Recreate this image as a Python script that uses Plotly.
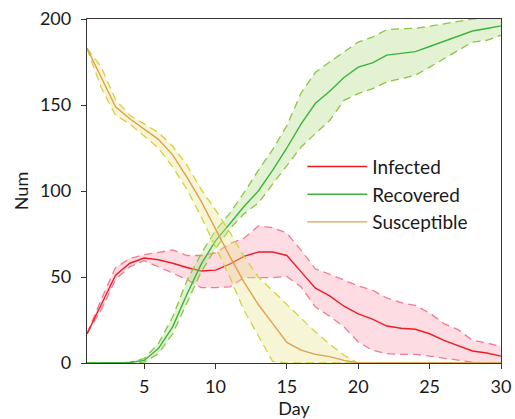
import plotly.graph_objects as go

days = list(range(1, 31))

infected_mean = [17, 34, 51, 58, 61, 60, 58, 55.5, 53.5, 54, 57.5, 62, 64.5, 64.5, 62.5,
                 53, 43.5, 39, 33, 28.5, 25.5, 21.5, 20.2, 19.6, 17, 13.2, 10.3, 7, 5.8, 4]
infected_upper = [17, 37, 55.5, 60.7, 63, 64.4, 65.7, 62.5, 62.5, 64, 69.4, 72.5, 79.7, 78.7, 75.5,
                  65.5, 54.7, 51.6, 48, 44.8, 42.3, 37.8, 35.1, 33.5, 29, 22.9, 19.4, 13.2, 11.6, 9.7]
infected_lower = [17, 31, 48.5, 56, 59.5, 56, 52.3, 48.5, 43.8, 43.8, 44.3, 49.6, 49.4, 49.6, 50.3,
                  44.2, 32.6, 27.2, 21, 12.2, 7.4, 5.4, 5, 5, 4, 2.8, 1.8, 0.5, 0, 0]

recovered_mean = [0, 0, 0, 0.3, 1.5, 8.4, 21, 40, 57.5, 71, 81, 91, 100, 112, 125,
                  139, 151, 158, 166, 172, 174.5, 179, 180, 181, 184, 187, 190, 193, 194.5, 196]
recovered_upper = [0, 0, 0, 0.5, 2.5, 11.3, 26.7, 48, 63.6, 77, 87, 99, 112, 124, 138,
                   157, 169, 175, 181, 186.6, 189.5, 193.8, 194.4, 194.6, 195.8, 197.3, 198.8, 200, 200.5, 200.5]
recovered_lower = [0, 0, 0, 0, 0.5, 5.4, 17, 35, 53, 66.5, 78, 86.8, 93, 104, 115,
                   125.6, 133.4, 141, 152.7, 156.6, 159.5, 163.4, 165.3, 167.3, 172, 177, 181.8, 186.6, 187.6, 190.5]

susceptible_mean = [183, 166, 149, 142, 136, 130, 121, 108, 94, 78, 62, 47, 34, 23, 12,
                    7.5, 5, 3.7, 1.5, 0, 0, 0, 0, 0, 0, 0, 0, 0, 0, 0]
susceptible_upper = [183, 172, 153, 144, 139, 134, 126, 115, 101, 89, 76, 62, 50, 42, 33.5,
                     26, 18, 11, 4.5, 0, 0, 0, 0, 0, 0, 0, 0, 0, 0, 0]
susceptible_lower = [183, 160, 144, 139, 132, 125, 114, 101, 85, 67, 50, 30.6, 16, 1, 0,
                     0, 0, 0, 0, 0, 0, 0, 0, 0, 0, 0, 0, 0, 0, 0]

x_ticks = [5, 10, 15, 20, 25, 30]
y_ticks = [0, 50, 100, 150, 200]

series = [
    ("Infected", infected_mean, infected_upper, infected_lower,
     "#ee1c25", "#f27a92", "rgba(250,170,185,0.40)"),
    ("Recovered", recovered_mean, recovered_upper, recovered_lower,
     "#3cb43c", "#8cc63f", "rgba(180,220,140,0.38)"),
    ("Susceptible", susceptible_mean, susceptible_upper, susceptible_lower,
     "#e0a050", "#d2d23c", "rgba(230,230,140,0.35)"),
]

fig = go.Figure()
for name, mean, up, lo, c_line, c_dash, c_fill in series:
    fig.add_trace(go.Scatter(x=days, y=up, mode="lines", showlegend=False,
                             line=dict(color=c_dash, width=1.3, dash="8px,5px"),
                             hoverinfo="skip"))
    fig.add_trace(go.Scatter(x=days, y=lo, mode="lines", showlegend=False,
                             fill="tonexty", fillcolor=c_fill,
                             line=dict(color=c_dash, width=1.3, dash="8px,5px"),
                             hoverinfo="skip"))
    fig.add_trace(go.Scatter(x=days, y=mean, mode="lines", name=name,
                             line=dict(color=c_line, width=1.4)))

font_family = "Lato, Carlito, Calibri, sans-serif"

fig.update_layout(
    width=515, height=419,
    autosize=False,
    margin=dict(l=87, r=14, t=19, b=56),
    paper_bgcolor="white", plot_bgcolor="white",
    font=dict(family=font_family, size=18, color="#1a1a1a"),
    showlegend=True,
    legend=dict(x=0.52, y=0.626, xanchor="left", yanchor="top",
                traceorder="normal",
                bgcolor="rgba(0,0,0,0)", borderwidth=0,
                font=dict(size=19), itemwidth=60, tracegroupgap=0),
    xaxis=dict(range=[1, 30], tickvals=x_ticks, ticks="outside", ticklen=5,
               tickwidth=1.2, tickcolor="#333", showline=True, linecolor="#333",
               linewidth=1.3, mirror=True, showgrid=False, zeroline=False,
               automargin=False, ticklabelstandoff=2,
               title=dict(text="Day", standoff=2, font=dict(size=18))),
    yaxis=dict(range=[0, 200], tickvals=y_ticks, ticks="outside", ticklen=5,
               tickwidth=1.2, tickcolor="#333", showline=True, linecolor="#333",
               linewidth=1.3, mirror=True, showgrid=False, zeroline=False,
               automargin=False, ticklabelstandoff=6,
               title=dict(text="Num", standoff=6, font=dict(size=18))),
)

fig.write_html(
    "out.html",
    config={"displayModeBar": False, "responsive": False},
    post_script=(
        "document.documentElement.style.overflow='hidden';"
        "document.body.style.margin='0';"
        "document.body.style.overflow='hidden';"
    ),
)
